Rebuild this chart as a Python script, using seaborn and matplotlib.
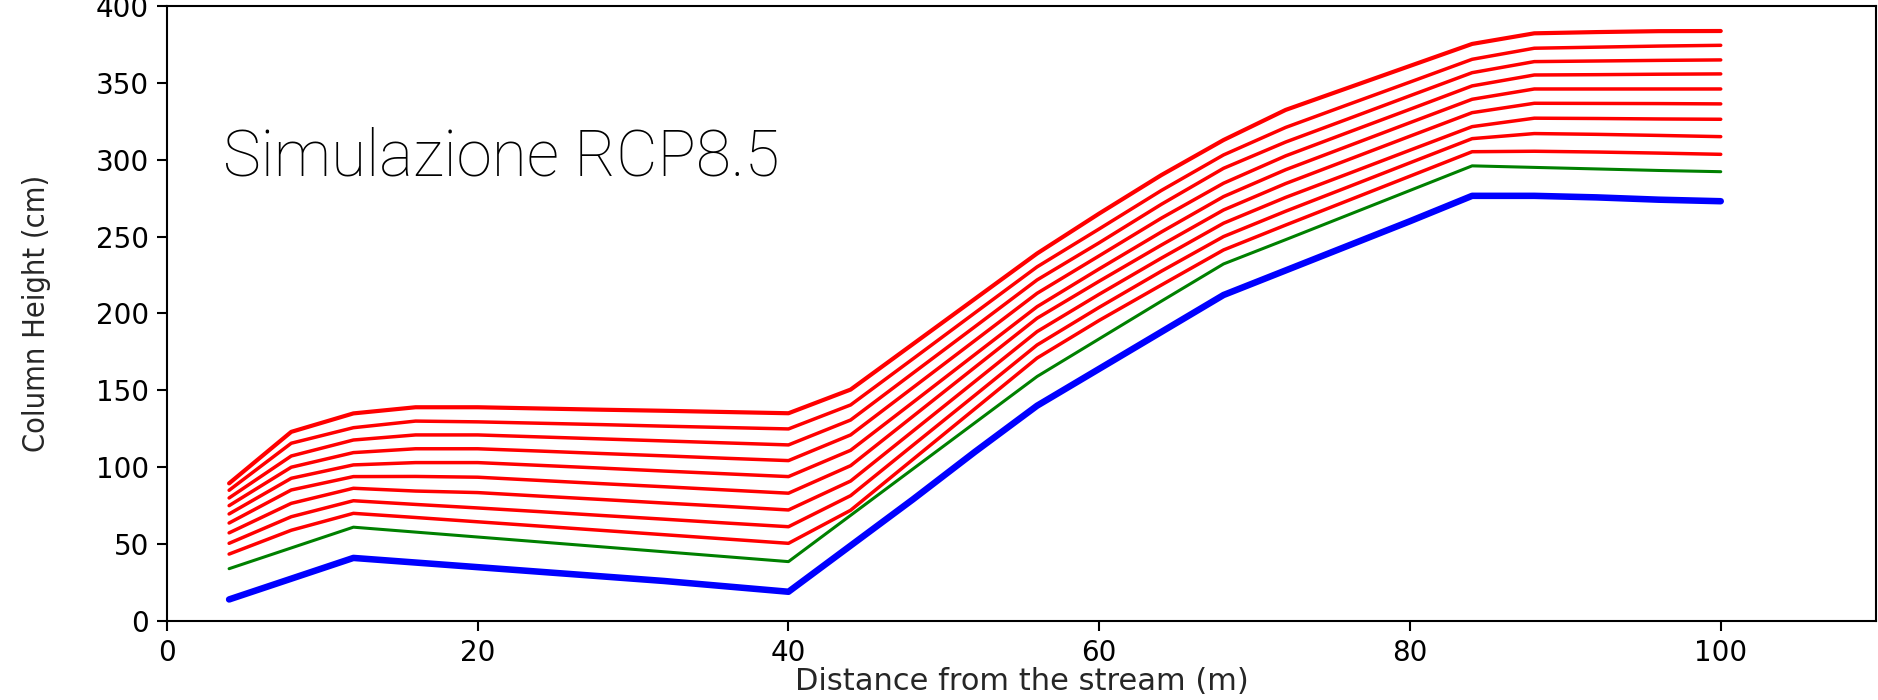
import numpy as np
import pandas as pd
import seaborn as sns
import matplotlib.pyplot as plt

#%% data
distance = [4, 8, 12, 16, 20, 24, 28, 32, 36, 40, 44, 48, 52,
            56, 60, 64, 68, 72, 76, 80, 84, 88, 92, 96, 100]

blue_base = [14, 27.5, 41, 38, 35, 32, 29, 26, 22.5, 19, 49, 79, 110,
             140, 164, 188, 212, 228, 244, 260, 276.5, 276.5, 275.5, 274, 273]

green_line = [34, 47.5, 61, 57.8, 54.6, 51.4, 48.2, 45, 41.8, 38.6, 68.7, 98.8, 128.9,
              159, 183.5, 208, 232.2, 248, 264, 280, 296, 295, 294, 293, 292.2]

red_1 = [43.5, 59, 70, 67.3, 64.5, 61.7, 58.9, 56.1, 53.3, 50.5, 72, 105, 138,
         171, 195.5, 218.5, 241.3, 257.5, 273.4, 289.3, 305.2, 305.5, 305, 304.3, 303.5]
red_2 = [50.5, 67.8, 78.2, 75.8, 73.5, 71.1, 68.6, 66.2, 63.7, 61.3, 81.5, 114.2, 146.8,
         179.5, 204, 227.5, 250, 266.5, 282.2, 298, 313.7, 317, 316.5, 315.8, 315]
red_3 = [57.3, 76.5, 86.3, 84.5, 83.5, 81.2, 79.0, 76.7, 74.5, 72.2, 91, 123.4, 155.8,
         188.2, 212.5, 236, 258.7, 275.5, 290.8, 306.2, 321.5, 327, 326.8, 326.5, 326.3]
red_4 = [63.7, 85.2, 93.9, 94, 93.5, 91.4, 89.3, 87.3, 85.2, 83.1, 101, 133, 165,
         196.9, 221, 244.5, 267.3, 284.5, 299.9, 315.3, 330.6, 336.7, 336.6, 336.5, 336.3]
red_5 = [69.6, 92.8, 101.5, 103, 103, 101.2, 99.4, 97.5, 95.7, 93.9, 111, 142.1, 173.3,
         204.4, 229, 253, 276, 293.5, 308.8, 324.1, 339.3, 346, 346, 346, 346]
red_6 = [75, 100, 109.5, 112, 112, 110.5, 108.9, 107.4, 105.8, 104.3, 121, 151.7, 182.4,
         213.1, 237.5, 262, 284.7, 302.5, 317.7, 332.8, 348, 355.1, 355.3, 355.6, 355.8]
red_7 = [80, 107.3, 117.7, 121, 121, 119.7, 118.4, 117.1, 115.8, 114.5, 130.7, 161.1, 191.4,
         221.8, 246, 271, 294.4, 311.5, 326.5, 341.6, 356.6, 363.8, 364.2, 364.6, 364.9]
red_8 = [85, 115.6, 125.7, 130, 129.5, 128.6, 127.7, 126.7, 125.8, 124.9, 140.5, 170.4, 200.4,
         230.3, 255, 280, 303.1, 321, 335.8, 350.5, 365.3, 372.5, 373.2, 373.9, 374.4]
red_9 = [89.5, 123, 135, 139, 139, 138.2, 137.4, 136.7, 135.9, 135.1, 150.5, 180, 209.5,
         239, 265, 290, 312.8, 332.4, 346.7, 361, 375.3, 382.2, 383, 383.6, 383.7]

red_lines = [red_1, red_2, red_3, red_4, red_5, red_6, red_7, red_8, red_9]

#%% plot
sns.set_style("ticks")
plt.rcParams['font.family'] = ['DejaVu Sans']

fig = plt.figure(figsize=(18.78, 7), dpi=100)
ax = fig.add_axes([0.0889, 0.1129, 0.9101, 0.8786])

for i, red in enumerate(red_lines):
    lw = 3.0 if i == len(red_lines) - 1 else 2.5
    sns.lineplot(x=distance, y=red, color='#ff0000', lw=lw, ax=ax)

sns.lineplot(x=distance, y=green_line, color='#008000', lw=2.2, ax=ax)
sns.lineplot(x=distance, y=blue_base, color='#0000ff', lw=4.7, ax=ax)

ax.set_xlim(0, 110)
ax.set_ylim(0, 400)
ax.set_xticks([0, 20, 40, 60, 80, 100])
ax.set_yticks(np.arange(0, 401, 50))
ax.tick_params(axis='both', direction='out', length=7, width=1.5,
               colors='black', labelsize=20, pad=6)
for side in ['left', 'bottom', 'top', 'right']:
    ax.spines[side].set_visible(True)
    ax.spines[side].set_linewidth(1.5)
    ax.spines[side].set_color('black')

ax.set_xlabel('Distance from the stream (m)', fontsize=22, labelpad=0)
ax.set_ylabel('Column Height (cm)', fontsize=22, fontstretch='condensed',
              family=['Liberation Sans Narrow', 'DejaVu Sans Condensed', 'DejaVu Sans'])
ax.yaxis.set_label_coords(-0.068, 0.5)

fig.text(0.119, 0.75, 'Simulazione RCP8.5', fontsize=46,
         family=['Roboto', 'DejaVu Sans'], fontweight='light', color='black')

fig.savefig('out.png', dpi=100)
